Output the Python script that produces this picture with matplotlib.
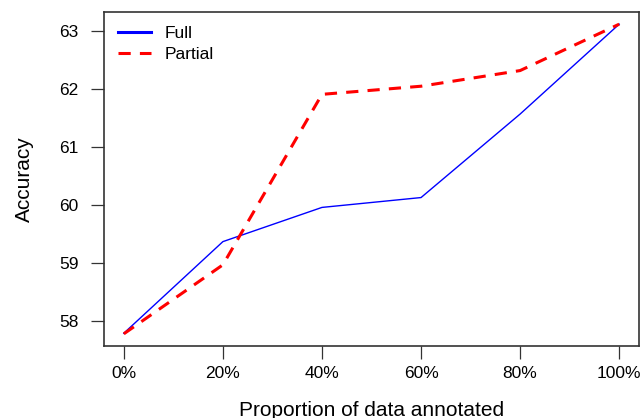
import matplotlib
matplotlib.use("Agg")
import matplotlib.pyplot as plt

proportion = [0, 20, 40, 60, 80, 100]
full = [57.79, 59.37, 59.96, 60.13, 61.57, 63.12]
partial = [57.78, 58.97, 61.91, 62.05, 62.32, 63.12]
x_ticklabels = ["0%", "20%", "40%", "60%", "80%", "100%"]
y_ticks = [58, 59, 60, 61, 62, 63]

plt.rcParams['font.family'] = ['Liberation Sans', 'DejaVu Sans']

fig = plt.figure(figsize=(6.41, 4.18), dpi=100)
ax = fig.add_axes([104/641, 1-346/418, 535/641, 334/418])

ax.plot(proportion, full, color="#0000FF", lw=1.0, label="Full")
ax.plot(proportion, partial, color="#FF0000", lw=2.2, dashes=(4, 3), label="Partial")

ax.set_xlim(-4, 104)
ax.set_ylim(57.57, 63.33)
ax.set_xticks(proportion)
ax.set_xticklabels(x_ticklabels)
ax.set_yticks(y_ticks)
ax.tick_params(axis='both', labelsize=12.5, length=9.5, width=0.9, color="#333333")
ax.tick_params(axis='y', pad=9)
ax.tick_params(axis='x', pad=5)
for s in ax.spines.values():
    s.set_linewidth(1.2)
    s.set_color("#333333")

ax.set_xlabel("Proportion of data annotated", fontsize=15, labelpad=14)
ax.set_ylabel("Accuracy", fontsize=15, labelpad=18)

leg = ax.legend(loc="upper left", frameon=False, fontsize=12.5, handlelength=1.9,
                handletextpad=0.8, borderaxespad=0.4, labelspacing=0.35)
for h in leg.get_lines():
    h.set_linewidth(2.2)

fig.savefig("out.png", dpi=100)
